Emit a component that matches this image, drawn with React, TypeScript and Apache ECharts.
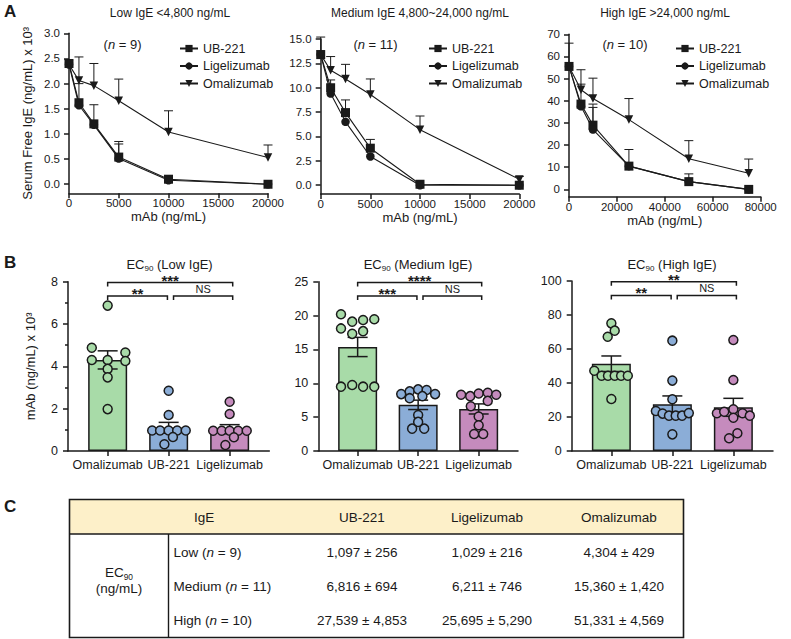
import React, { useEffect, useRef } from 'react';
import * as echarts from 'echarts';

const FONT = '"Liberation Sans", Arial, Helvetica, sans-serif';
const INK = '#1a1a1a';

// ---------- Panel A data ----------
const seriesNames = ['UB-221', 'Ligelizumab', 'Omalizumab'];
const dosesLowMid = [0, 1000, 2500, 5000, 10000, 20000];
const dosesHigh = [0, 5000, 10000, 25000, 50000, 75000];

const lowUB221 = [2.4, 1.62, 1.2, 0.54, 0.1, 0.0];
const lowLige = [2.38, 1.57, 1.18, 0.51, 0.08, 0.0];
const lowOmal = [2.38, 2.06, 1.96, 1.66, 1.04, 0.53];
const lowUB221Top = [null, 2.0, 1.58, 0.85, null, null];
const lowLigeTop = [null, null, null, 0.8, null, null];
const lowOmalTop = [null, 2.53, 2.4, 2.09, 1.46, 0.78];

const midUB221 = [13.4, 10.0, 7.45, 3.8, 0.1, 0.0];
const midLige = [13.4, 9.4, 6.5, 2.95, 0.0, 0.0];
const midOmal = [13.4, 11.8, 10.9, 9.3, 5.7, 0.6];
const midUB221Top = [null, 10.8, 8.75, 4.7, null, null];
const midLigeTop = [null, null, null, null, null, null];
const midOmalTop = [15.2, 13.2, 12.4, 10.9, 7.1, 0.9];

const highUB221 = [55.5, 38.5, 29.0, 10.5, 3.5, 0.0];
const highLige = [55.5, 37.5, 27.0, 10.5, 3.5, 0.0];
const highOmal = [55.5, 45.0, 41.0, 31.5, 13.8, 7.3];
const highUB221Top = [null, 47.5, 38.5, 18.0, 7.0, null];
const highLigeTop = [null, null, 37.0, null, null, null];
const highOmalTop = [66.0, 54.0, 50.2, 41.0, 22.0, 13.7];

const yTicksLow = [0, 0.5, 1, 1.5, 2, 2.5, 3];
const yTicksMid = [0, 2.5, 5, 7.5, 10, 12.5, 15];
const yTicksHigh = [0, 10, 20, 30, 40, 50, 60, 70];

// ---------- Panel B / C data ----------
const drugs = ['Omalizumab', 'UB-221', 'Ligelizumab'];
const groups = ['Low', 'Medium', 'High'];
const groupN = [9, 11, 10];
const ub221Mean = [1097, 6816, 27539];
const ub221Sem = [256, 694, 4853];
const ligeMean = [1029, 6211, 25695];
const ligeSem = [216, 746, 5290];
const omalMean = [4304, 15360, 51331];
const omalSem = [429, 1420, 4569];

const lowOmalDots = [6.87, 4.88, 4.65, 4.3, 4.3, 4.25, 3.88, 3.48, 1.98];
const lowOmalJitter = [0, -0.26, 0.29, -0.26, 0, 0.29, 0, 0, 0];
const lowUB221Dots = [2.85, 1.7, 0.97, 0.97, 0.97, 0.97, 0.97, 0.66, 0.32];
const lowUB221Jitter = [0, 0, -0.27, -0.14, 0, 0.14, 0.28, 0.07, -0.07];
const lowLigeDots = [2.33, 1.75, 0.96, 0.96, 0.96, 0.96, 0.96, 0.65, 0.28];
const lowLigeJitter = [0, 0, -0.27, -0.13, 0, 0.14, 0.28, 0.07, -0.07];

const midOmalDots = [20.2, 19.1, 19.35, 19.45, 18.1, 17.3, 17.7, 9.5, 9.75, 9.5, 9.5];
const midOmalJitter = [-0.275, -0.09, 0.09, 0.275, -0.275, -0.09, 0.09, -0.275, -0.09, 0.09, 0.275];
const midUB221Dots = [8.4, 8.8, 9.1, 9.0, 8.4, 7.8, 8.1, 5.3, 4.3, 3.3, 3.3];
const midUB221Jitter = [-0.28, -0.14, 0, 0.14, 0.28, -0.14, 0.07, 0, 0, -0.1, 0.1];
const midLigeDots = [8.3, 8.1, 8.5, 8.6, 8.3, 6.6, 7.4, 5.1, 3.8, 2.5, 2.5];
const midLigeJitter = [-0.29, -0.14, 0, 0.15, 0.29, -0.13, 0.15, 0, 0, -0.075, 0.075];

const highOmalDots = [75.1, 70.8, 67.2, 47.2, 44.3, 44.3, 44.3, 44.3, 44.3, 30.6];
const highOmalJitter = [0, 0.055, -0.06, -0.28, -0.16, -0.055, 0.055, 0.16, 0.27, 0];
const highUB221Dots = [64.9, 41.4, 30.4, 23.5, 22.0, 20.8, 20.8, 20.8, 22.3, 9.8];
const highUB221Jitter = [0, 0, 0, -0.27, -0.16, -0.055, 0.055, 0.16, 0.27, 0];
const highLigeDots = [65.3, 41.8, 22.2, 23.1, 24.5, 22.2, 20.8, 19.6, 10.4, 7.5];
const highLigeJitter = [0, 0, -0.27, -0.15, 0, 0.15, 0.27, 0, 0.066, -0.07];

const lowSig = ['***', '**', 'NS'];
const midSig = ['****', '***', 'NS'];
const highSig = ['**', '**', 'NS'];

const drugColors = ['#a8dba8', '#8badd7', '#c58bbd'];

// ---------- helpers ----------
const axisLine = { show: true, onZero: false, lineStyle: { color: INK, width: 1.5 } };
const axisTick = { show: true, length: 5, lineStyle: { color: INK, width: 1.5 } };
const txt = (size: number) => ({ color: INK, fontFamily: FONT, fontSize: size });

function errUpSeries(idx: number, xs: number[], ys: number[], tops: (number | null)[]) {
  const data: number[][] = [];
  xs.forEach((x, i) => {
    const t = tops[i];
    if (t !== null && t !== undefined) data.push([x, ys[i], t]);
  });
  return {
    type: 'custom', xAxisIndex: idx, yAxisIndex: idx, data, z: 1, silent: true,
    renderItem: (_p: any, api: any) => {
      const p = api.coord([api.value(0), api.value(1)]);
      const q = api.coord([api.value(0), api.value(2)]);
      return {
        type: 'group', children: [
          { type: 'line', shape: { x1: p[0], y1: p[1], x2: q[0], y2: q[1] }, style: { stroke: INK, lineWidth: 1 } },
          { type: 'line', shape: { x1: q[0] - 4.5, y1: q[1], x2: q[0] + 4.5, y2: q[1] }, style: { stroke: INK, lineWidth: 1 } },
        ],
      };
    },
  };
}

function lineSeries(idx: number, name: string, xs: number[], ys: number[], symbol: string, size: number, rotate = 0) {
  return {
    type: 'line', name, xAxisIndex: idx, yAxisIndex: idx,
    data: xs.map((x, i) => [x, ys[i]]),
    symbol, symbolSize: size, symbolRotate: rotate, showSymbol: true,
    itemStyle: { color: INK }, lineStyle: { color: INK, width: 1.1 },
    z: 3, silent: true,
  };
}

function buildOption() {
  const aPanels = [
    { grid: { left: 69, top: 33.3, width: 199, height: 160 }, xMax: 20000, xInt: 5000, yMin: -0.18, yMax: 3, ticks: yTicksLow, dec: 1,
      doses: dosesLowMid, d: [lowUB221, lowLige, lowOmal], tops: [lowUB221Top, lowLigeTop, lowOmalTop] },
    { grid: { left: 320.7, top: 39, width: 198.6, height: 155 }, xMax: 20000, xInt: 5000, yMin: -0.9, yMax: 15, ticks: yTicksMid, dec: 1,
      doses: dosesLowMid, d: [midUB221, midLige, midOmal], tops: [midUB221Top, midLigeTop, midOmalTop] },
    { grid: { left: 569, top: 34.3, width: 191.7, height: 162.4 }, xMax: 80000, xInt: 20000, yMin: -3.3, yMax: 70, ticks: yTicksHigh, dec: 0,
      doses: dosesHigh, d: [highUB221, highLige, highOmal], tops: [highUB221Top, highLigeTop, highOmalTop] },
  ];
  const bPanels = [
    { grid: { left: 68, top: 281.7, width: 201.3, height: 169.3 }, yMax: 8, yInt: 2, minor: true, gi: 0,
      dots: [lowOmalDots, lowUB221Dots, lowLigeDots], jit: [lowOmalJitter, lowUB221Jitter, lowLigeJitter], sig: lowSig },
    { grid: { left: 318.3, top: 281.7, width: 199.7, height: 169.3 }, yMax: 25, yInt: 5, minor: false, gi: 1,
      dots: [midOmalDots, midUB221Dots, midLigeDots], jit: [midOmalJitter, midUB221Jitter, midLigeJitter], sig: midSig },
    { grid: { left: 571.7, top: 281, width: 201.3, height: 170 }, yMax: 100, yInt: 20, minor: false, gi: 2,
      dots: [highOmalDots, highUB221Dots, highLigeDots], jit: [highOmalJitter, highUB221Jitter, highLigeJitter], sig: highSig },
  ];

  const grid: any[] = [];
  const xAxis: any[] = [];
  const yAxis: any[] = [];
  const series: any[] = [];

  aPanels.forEach((p, i) => {
    grid.push({ ...p.grid, containLabel: false });
    xAxis.push({
      type: 'value', gridIndex: i, min: 0, max: p.xMax, interval: p.xInt,
      axisLine, axisTick, splitLine: { show: false },
      axisLabel: { ...txt(11.5), margin: 4, showMaxLabel: true, showMinLabel: true, formatter: (v: number) => String(v) },
      name: 'mAb (ng/mL)', nameLocation: 'middle', nameGap: 15, nameTextStyle: txt(13),
    });
    yAxis.push({
      type: 'value', gridIndex: i, min: p.yMin, max: p.yMax,
      axisLine, splitLine: { show: false },
      axisTick: { ...axisTick, customValues: p.ticks },
      axisLabel: { ...txt(11.5), margin: 9, customValues: p.ticks, formatter: (v: number) => v.toFixed(p.dec) },
      name: i === 0 ? 'Serum Free IgE (ng/mL) x 10³' : '', nameLocation: 'middle', nameGap: 35, nameTextStyle: txt(13),
    });
    series.push(errUpSeries(i, p.doses, p.d[0], p.tops[0]));
    series.push(errUpSeries(i, p.doses, p.d[1], p.tops[1]));
    series.push(errUpSeries(i, p.doses, p.d[2], p.tops[2]));
    series.push(lineSeries(i, seriesNames[0], p.doses, p.d[0], 'rect', 9));
    series.push(lineSeries(i, seriesNames[1], p.doses, p.d[1], 'circle', 8.5));
    series.push(lineSeries(i, seriesNames[2], p.doses, p.d[2], 'triangle', 8.5, 180));
  });

  const means = [omalMean, ub221Mean, ligeMean];
  const sems = [omalSem, ub221Sem, ligeSem];

  bPanels.forEach((p, k) => {
    const i = k + 3;
    grid.push({ ...p.grid, containLabel: false });
    xAxis.push({
      type: 'value', gridIndex: i, min: -0.65, max: 2.65,
      axisLine, splitLine: { show: false },
      axisTick: { ...axisTick, customValues: [0, 1, 2] },
      axisLabel: { ...txt(12.5), margin: 7, customValues: [0, 1, 2], formatter: (v: number) => drugs[Math.round(v)] },
    });
    yAxis.push({
      type: 'value', gridIndex: i, min: 0, max: p.yMax, interval: p.yInt,
      axisLine: { ...axisLine }, splitLine: { show: false }, axisTick,
      minorTick: { show: p.minor, splitNumber: 2, length: 3, lineStyle: { color: INK, width: 1.5 } },
      axisLabel: { ...txt(12.5), margin: 10 },
      name: k === 0 ? 'mAb (ng/mL) x 10³' : '', nameLocation: 'middle', nameGap: 31, nameTextStyle: txt(13),
    });
    const g = p.gi;
    const barData = drugs.map((_, d) => ({ value: [d, means[d][g] / 1000], itemStyle: { color: drugColors[d] } }));
    series.push({
      type: 'bar', xAxisIndex: i, yAxisIndex: i, data: barData, barWidth: 39, z: 2, silent: true,
      itemStyle: { borderColor: INK, borderWidth: 1.5 },
    });
    series.push({
      type: 'custom', xAxisIndex: i, yAxisIndex: i, z: 3, silent: true,
      data: drugs.map((_, d) => [d, means[d][g] / 1000, sems[d][g] / 1000]),
      renderItem: (_p: any, api: any) => {
        const x = api.value(0), m = api.value(1), s = api.value(2);
        const lo = api.coord([x, m - s]);
        const hi = api.coord([x, m + s]);
        const ls = { stroke: INK, lineWidth: 1.5 };
        return {
          type: 'group', children: [
            { type: 'line', shape: { x1: lo[0], y1: lo[1], x2: hi[0], y2: hi[1] }, style: ls },
            { type: 'line', shape: { x1: lo[0] - 10, y1: lo[1], x2: lo[0] + 10, y2: lo[1] }, style: ls },
            { type: 'line', shape: { x1: hi[0] - 10, y1: hi[1], x2: hi[0] + 10, y2: hi[1] }, style: ls },
          ],
        };
      },
    });
    drugs.forEach((_, d) => {
      series.push({
        type: 'scatter', xAxisIndex: i, yAxisIndex: i, z: 4, silent: true,
        data: p.dots[d].map((v, j) => [d + p.jit[d][j], v]),
        symbol: 'circle', symbolSize: 9,
        itemStyle: { color: drugColors[d], borderColor: INK, borderWidth: 1.5, opacity: 1 },
      });
    });
    const labels = p.sig;
    series.push({
      type: 'custom', xAxisIndex: i, yAxisIndex: i, z: 5, silent: true, clip: false,
      data: [[0, 2.05, 0.995 * p.yMax], [0, 0.98, 0.915 * p.yMax], [1.08, 2.05, 0.915 * p.yMax]],
      renderItem: (params: any, api: any) => {
        const a = api.coord([api.value(0), api.value(2)]);
        const b = api.coord([api.value(1), api.value(2)]);
        const label = labels[params.dataIndex];
        const star = label !== 'NS';
        return {
          type: 'group', children: [
            { type: 'polyline', shape: { points: [[a[0], a[1] + 4], [a[0], a[1]], [b[0], b[1]], [b[0], b[1] + 4]] },
              style: { stroke: INK, lineWidth: 1.5, fill: 'none' } },
            { type: 'text', style: {
                text: label, x: (a[0] + b[0]) / 2, y: star ? a[1] + 5 : a[1] - 1.5,
                align: 'center', verticalAlign: 'bottom',
                fontSize: star ? 15 : 11, fontWeight: star ? 'bold' : 'normal', fontFamily: FONT, fill: INK } },
          ],
        };
      },
    });
  });

  const legendLefts = [174, 423, 670];
  const legend = legendLefts.map((l) => ({
    left: l, top: 37, orient: 'vertical', data: seriesNames, selectedMode: false,
    itemWidth: 18, itemHeight: 9, itemGap: 4.5, textStyle: txt(12.5),
  }));

  // ---------- graphic texts ----------
  const gText = (x: number, y: number, text: string, size: number, extra: any = {}) => ({
    type: 'text', x, y, silent: true,
    style: { text, fontSize: size, fontFamily: FONT, fill: INK, align: 'center', verticalAlign: 'middle', ...extra },
  });
  const rich = (size: number) => ({
    r: { fontSize: size, fontFamily: FONT, color: INK },
    i: { fontSize: size, fontFamily: FONT, color: INK, fontStyle: 'italic' },
    s: { fontSize: size * 0.62, fontFamily: FONT, color: INK, verticalAlign: 'bottom', padding: [0, 0, -2, 0] },
  });

  const aTitles = ['Low IgE <4,800 ng/mL', 'Medium IgE 4,800~24,000 ng/mL', 'High IgE >24,000 ng/mL'];
  const aTitleX = [170, 420, 665];
  const nX = [122.5, 375.5, 625];
  const bTitles = ['Low IgE', 'Medium IgE', 'High IgE'];
  const bTitleX = [169.5, 418, 672];

  const graphic: any[] = [];
  graphic.push(gText(4, 11, 'A', 17, { fontWeight: 'bold', align: 'left' }));
  graphic.push(gText(4, 262, 'B', 17, { fontWeight: 'bold', align: 'left' }));
  graphic.push(gText(4, 506, 'C', 17, { fontWeight: 'bold', align: 'left' }));
  aTitles.forEach((t, i) => graphic.push(gText(aTitleX[i], 12.5, t, 12)));
  groupN.forEach((n, i) => graphic.push(gText(nX[i], 44, `{r|(}{i|n}{r| = ${n})}`, 13, { rich: rich(13) })));
  bTitles.forEach((t, i) => graphic.push(gText(bTitleX[i], 264, `{r|EC}{s|90}{r| (${t})}`, 13, { rich: rich(13) })));

  // ---------- table (panel C) ----------
  const tL = 69.5, tT = 499.5, tR = 683.5, tB = 637.5, hB = 534, sepX = 168.5;
  const colX = [204, 362, 487, 619];
  const rowY = [552, 586, 620];
  const fmt = (v: number) => v.toLocaleString('en-US');
  const headers = ['IgE', 'UB-221', 'Ligelizumab', 'Omalizumab'];
  graphic.push({ type: 'rect', silent: true, shape: { x: tL, y: tT, width: tR - tL, height: hB - tT }, style: { fill: '#fdf0c9' } });
  graphic.push({ type: 'rect', silent: true, shape: { x: tL, y: tT, width: tR - tL, height: tB - tT }, style: { fill: 'none', stroke: INK, lineWidth: 1.6 } });
  graphic.push({ type: 'line', silent: true, shape: { x1: tL, y1: hB, x2: tR, y2: hB }, style: { stroke: INK, lineWidth: 1.4 } });
  graphic.push({ type: 'line', silent: true, shape: { x1: sepX, y1: hB, x2: sepX, y2: tB }, style: { stroke: INK, lineWidth: 1.4 } });
  headers.forEach((h, c) => graphic.push(gText(colX[c], 517, h, 13.5)));
  graphic.push(gText((tL + sepX) / 2, 572, '{r|EC}{s|90}', 13.5, { rich: rich(13.5) }));
  graphic.push(gText((tL + sepX) / 2, 588, '(ng/mL)', 13.5));
  const cols = [[ub221Mean, ub221Sem], [ligeMean, ligeSem], [omalMean, omalSem]];
  groups.forEach((gName, r) => {
    graphic.push(gText(173.5, rowY[r], `{r|${gName} (}{i|n}{r| = ${groupN[r]})}`, 13.5, { align: 'left', rich: rich(13.5) }));
    cols.forEach(([m, s], c) => graphic.push(gText(colX[c + 1], rowY[r], `${fmt(m[r])} ± ${fmt(s[r])}`, 13.5)));
  });

  return {
    animation: false,
    backgroundColor: '#ffffff',
    textStyle: { fontFamily: FONT },
    grid, xAxis, yAxis, series, legend, graphic,
  };
}

export default function App() {
  const ref = useRef<HTMLDivElement>(null);
  useEffect(() => {
    if (!ref.current) return;
    const chart = echarts.init(ref.current, null, { renderer: 'svg' });
    chart.setOption(buildOption() as any);
    return () => chart.dispose();
  }, []);
  return <div ref={ref} style={{ position: 'absolute', left: 0, top: 0, width: 791, height: 639, background: '#fff' }} />;
}
